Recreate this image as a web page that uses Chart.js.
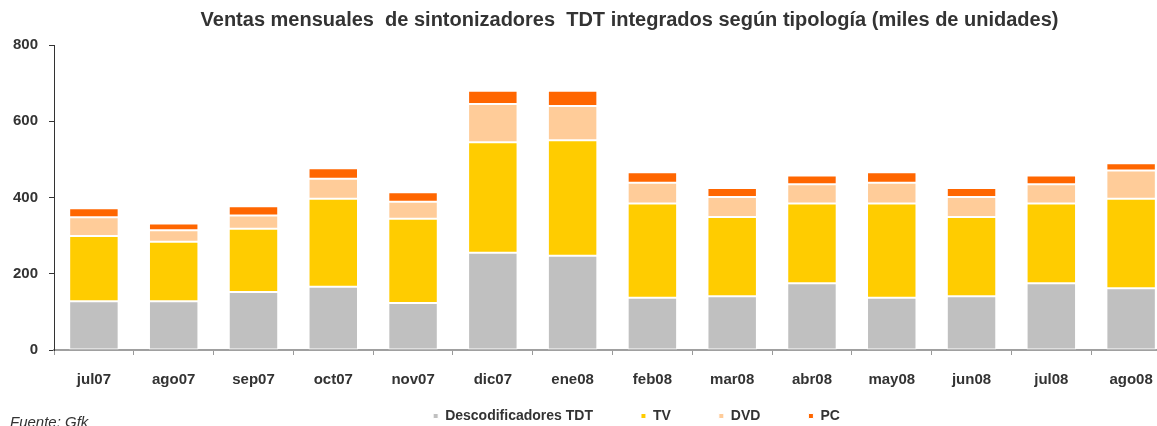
<!DOCTYPE html>
<html>
<head>
<meta charset="utf-8">
<script src="https://cdn.jsdelivr.net/npm/chart.js@4/dist/chart.umd.min.js"></script>
<style>
  html, body { margin: 0; padding: 0; background: #fff; overflow: hidden; }
  #wrap { position: relative; width: 1171px; height: 426px; overflow: hidden; }
  #fuente { position: absolute; left: 10px; top: 413px; font: italic 15px "Liberation Sans", Arial, sans-serif; color: #333; }
</style>
</head>
<body>
<div id="wrap">
  <canvas id="myChart" width="1171" height="477"></canvas>
  <div id="fuente">Fuente: Gfk</div>
</div>
<script>
var months = ['jul07', 'ago07', 'sep07', 'oct07', 'nov07', 'dic07', 'ene08', 'feb08', 'mar08', 'abr08', 'may08', 'jun08', 'jul08', 'ago08'];
var descodificadores = [128, 128, 152, 166, 123, 255, 247, 137, 141, 175, 137, 141, 175, 162];
var tv = [171, 156, 166, 231, 221, 290, 303, 247, 208, 209, 247, 208, 209, 235];
var dvd = [49, 30, 35, 52, 45, 100, 90, 55, 52, 51, 55, 52, 51, 74];
var pc = [24, 18, 24, 28, 25, 35, 40, 27, 24, 23, 27, 24, 23, 19];
var yTicks = [0, 200, 400, 600, 800];

var font = "'Liberation Sans', Arial, sans-serif";

function serie(label, data, color) {
    return {
        label: label,
        data: data,
        backgroundColor: color,
        borderColor: '#ffffff',
        borderWidth: 1,
        borderSkipped: false,
        barPercentage: 0.62,
        categoryPercentage: 1
    };
}

// titulo y leyenda no van centrados en el lienzo en el original: se desplazan a mano
var ajustarCajas = {
    id: 'ajustarCajas',
    afterLayout: function (chart) {
        var t = chart.titleBlock;
        t.left += 43;
        t.right += 43;
        var l = chart.legend;
        var dy = 361 - l.top;
        l.top += dy;
        l.bottom += dy;
        l.left += 50;
        l.right += 50;
    }
};

new Chart(document.getElementById('myChart'), {
    type: 'bar',
    data: {
        labels: months,
        datasets: [
            serie('Descodificadores TDT', descodificadores, '#c0c0c0'),
            serie('TV', tv, '#ffcc00'),
            serie('DVD', dvd, '#ffcc99'),
            serie('PC', pc, '#ff6600')
        ]
    },
    plugins: [ajustarCajas],
    options: {
        responsive: false,
        animation: false,
        layout: { padding: { top: 0, left: 2, right: 0, bottom: 0 } },
        plugins: {
            title: {
                display: true,
                text: 'Ventas mensuales  de sintonizadores  TDT integrados según tipología (miles de unidades)',
                color: '#333',
                font: { family: font, size: 20, weight: 'bold' },
                padding: { top: 8, bottom: 13 }
            },
            legend: {
                position: 'bottom',
                labels: {
                    color: '#333',
                    font: { family: font, size: 14, weight: 'bold' },
                    boxWidth: 5,
                    boxHeight: 5,
                    padding: 48
                }
            },
            tooltip: { enabled: false }
        },
        scales: {
            x: {
                stacked: true,
                grid: { drawOnChartArea: false, color: '#999', tickLength: 5, offset: true },
                border: { color: '#a0a0a0', width: 2 },
                ticks: { color: '#333', font: { family: font, size: 15, weight: 'bold' }, padding: 16 }
            },
            y: {
                stacked: true,
                min: 0,
                max: 800,
                afterBuildTicks: function (axis) {
                    axis.ticks = yTicks.map(function (v) { return { value: v }; });
                },
                grid: { drawOnChartArea: false, color: '#333', tickLength: 5 },
                border: { color: '#333', width: 1 },
                ticks: { color: '#333', font: { family: font, size: 15, weight: 'bold' }, padding: 11 }
            }
        }
    }
});
</script>
</body>
</html>
